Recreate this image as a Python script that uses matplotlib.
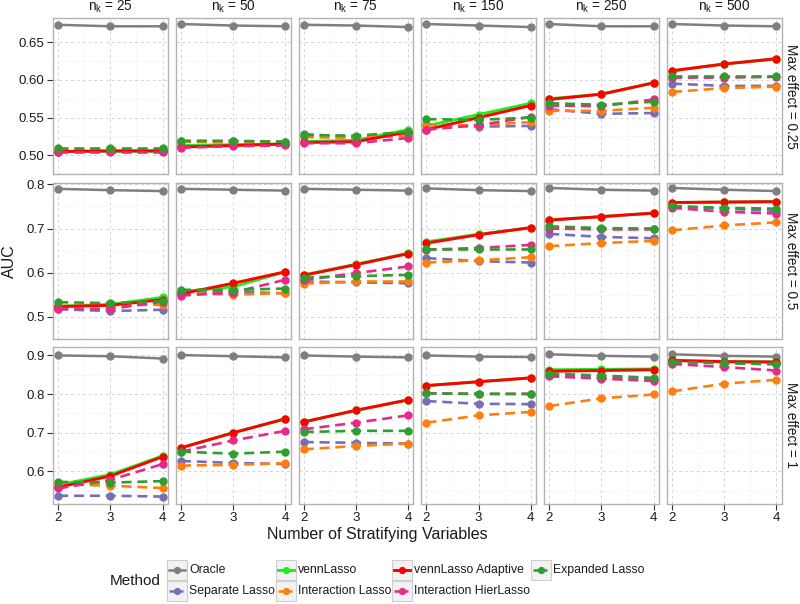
import matplotlib
matplotlib.use("Agg")
import matplotlib.pyplot as plt
from matplotlib.patches import Rectangle
from matplotlib.lines import Line2D

plt.rcParams['font.family'] = ['Liberation Sans', 'DejaVu Sans']
plt.rcParams['mathtext.fontset'] = 'custom'
plt.rcParams['mathtext.rm'] = 'Liberation Sans'
plt.rcParams['mathtext.it'] = 'Liberation Sans:italic'

# ---------------- data ----------------
strat_vars = [2, 3, 4]
n_k = [25, 50, 75, 150, 250, 500]
effects = ["0.25", "0.5", "1"]
methods = ["Oracle", "Separate Lasso", "vennLasso", "Interaction Lasso",
           "vennLasso Adaptive", "Interaction HierLasso", "Expanded Lasso"]

# each list: one row of [x=2, x=3, x=4] per n_k
oracle_e025 = [[0.673, 0.671, 0.671], [0.674, 0.672, 0.671], [0.673, 0.672, 0.670],
               [0.674, 0.672, 0.670], [0.674, 0.671, 0.671], [0.674, 0.672, 0.671]]
oracle_e05 = [[0.790, 0.787, 0.785], [0.790, 0.788, 0.786], [0.790, 0.788, 0.786],
              [0.791, 0.787, 0.785], [0.792, 0.788, 0.786], [0.792, 0.788, 0.785]]
oracle_e1 = [[0.900, 0.898, 0.892], [0.901, 0.898, 0.895], [0.900, 0.897, 0.895],
             [0.900, 0.897, 0.896], [0.903, 0.899, 0.897], [0.903, 0.899, 0.897]]

separate_e025 = [[0.506, 0.506, 0.506], [0.519, 0.519, 0.518], [0.528, 0.524, 0.528],
                 [0.541, 0.538, 0.539], [0.561, 0.555, 0.556], [0.595, 0.592, 0.592]]
separate_e05 = [[0.517, 0.513, 0.516], [0.556, 0.557, 0.553], [0.580, 0.578, 0.576],
                [0.633, 0.626, 0.623], [0.688, 0.681, 0.678], [0.750, 0.745, 0.740]]
separate_e1 = [[0.537, 0.537, 0.535], [0.627, 0.622, 0.619], [0.676, 0.674, 0.672],
               [0.782, 0.775, 0.774], [0.850, 0.842, 0.838], [0.883, 0.880, 0.877]]

venn_e025 = [[0.506, 0.506, 0.506], [0.513, 0.514, 0.515], [0.518, 0.520, 0.534],
             [0.539, 0.554, 0.569], [0.575, 0.581, 0.596], [0.612, 0.621, 0.628]]
venn_e05 = [[0.524, 0.528, 0.544], [0.557, 0.568, 0.602], [0.595, 0.619, 0.644],
            [0.670, 0.687, 0.702], [0.720, 0.727, 0.735], [0.759, 0.760, 0.761]]
venn_e1 = [[0.565, 0.592, 0.640], [0.661, 0.700, 0.736], [0.728, 0.758, 0.785],
           [0.822, 0.832, 0.842], [0.863, 0.864, 0.865], [0.887, 0.884, 0.883]]

inter_e025 = [[0.509, 0.509, 0.509], [0.518, 0.517, 0.517], [0.524, 0.523, 0.526],
              [0.540, 0.540, 0.544], [0.559, 0.559, 0.563], [0.584, 0.589, 0.591]]
inter_e05 = [[0.524, 0.527, 0.527], [0.554, 0.550, 0.554], [0.575, 0.580, 0.580],
             [0.623, 0.628, 0.635], [0.660, 0.667, 0.672], [0.696, 0.707, 0.714]]
inter_e1 = [[0.567, 0.563, 0.557], [0.615, 0.617, 0.621], [0.657, 0.666, 0.672],
            [0.726, 0.745, 0.754], [0.769, 0.789, 0.799], [0.807, 0.827, 0.837]]

adaptive_e025 = [[0.505, 0.506, 0.506], [0.511, 0.513, 0.515], [0.517, 0.518, 0.531],
                 [0.534, 0.550, 0.566], [0.574, 0.581, 0.596], [0.612, 0.621, 0.628]]
adaptive_e05 = [[0.523, 0.526, 0.539], [0.552, 0.576, 0.602], [0.594, 0.618, 0.643],
                [0.667, 0.686, 0.702], [0.719, 0.727, 0.735], [0.759, 0.760, 0.761]]
adaptive_e1 = [[0.559, 0.588, 0.638], [0.661, 0.700, 0.736], [0.728, 0.758, 0.785],
               [0.822, 0.832, 0.842], [0.859, 0.861, 0.863], [0.887, 0.884, 0.883]]

hier_e025 = [[0.505, 0.505, 0.505], [0.510, 0.512, 0.513], [0.516, 0.516, 0.523],
             [0.534, 0.540, 0.551], [0.566, 0.565, 0.574], [0.603, 0.603, 0.604]]
hier_e05 = [[0.518, 0.518, 0.534], [0.548, 0.555, 0.584], [0.583, 0.599, 0.614],
            [0.652, 0.656, 0.663], [0.700, 0.698, 0.698], [0.747, 0.738, 0.734]]
hier_e1 = [[0.556, 0.578, 0.619], [0.651, 0.680, 0.705], [0.709, 0.726, 0.745],
           [0.802, 0.800, 0.801], [0.846, 0.840, 0.834], [0.878, 0.870, 0.861]]

expanded_e025 = [[0.510, 0.510, 0.510], [0.519, 0.519, 0.518], [0.527, 0.526, 0.531],
                 [0.548, 0.547, 0.550], [0.569, 0.567, 0.571], [0.605, 0.605, 0.605]]
expanded_e05 = [[0.533, 0.531, 0.535], [0.561, 0.561, 0.564], [0.589, 0.592, 0.595],
                [0.654, 0.654, 0.654], [0.705, 0.701, 0.700], [0.751, 0.747, 0.745]]
expanded_e1 = [[0.573, 0.571, 0.575], [0.651, 0.646, 0.651], [0.702, 0.705, 0.705],
               [0.802, 0.801, 0.800], [0.853, 0.848, 0.842], [0.884, 0.880, 0.878]]

row_ticks = [[0.50, 0.55, 0.60, 0.65], [0.5, 0.6, 0.7, 0.8], [0.6, 0.7, 0.8, 0.9]]
row_tick_labels = [["0.50", "0.55", "0.60", "0.65"], ["0.5", "0.6", "0.7", "0.8"],
                   ["0.6", "0.7", "0.8", "0.9"]]

# ---------------- styles ----------------
series = {
    "Oracle": [oracle_e025, oracle_e05, oracle_e1],
    "Separate Lasso": [separate_e025, separate_e05, separate_e1],
    "vennLasso": [venn_e025, venn_e05, venn_e1],
    "Interaction Lasso": [inter_e025, inter_e05, inter_e1],
    "vennLasso Adaptive": [adaptive_e025, adaptive_e05, adaptive_e1],
    "Interaction HierLasso": [hier_e025, hier_e05, hier_e1],
    "Expanded Lasso": [expanded_e025, expanded_e05, expanded_e1],
}
colors = {
    "Oracle": "#7f7f7f", "Separate Lasso": "#7570B3", "vennLasso": "#1CF01C",
    "Interaction Lasso": "#FF7F0E", "vennLasso Adaptive": "#FF0000",
    "Interaction HierLasso": "#E7298A", "Expanded Lasso": "#2E9E2E",
}
dashed = {"Separate Lasso", "Interaction Lasso", "Interaction HierLasso", "Expanded Lasso"}
lws = {"Oracle": 1.8, "vennLasso": 2.1, "vennLasso Adaptive": 2.1}

W, H = 800, 604
fig = plt.figure(figsize=(W / 100, H / 100), dpi=100)

left0, right_end, top0, bottom_end = 53, 781.5, 18, 503.5
gapx, gapy = 8, 8.5
pw = (right_end - left0 - 5 * gapx) / 6
ph = (bottom_end - top0 - 2 * gapy) / 3
ylims = [(0.4976, 0.682), (0.4995, 0.804), (0.517, 0.921)]

# overlay axes in pixel coordinates for titles and legend
ov = fig.add_axes([0, 0, 1, 1], zorder=10)
ov.set_xlim(0, W)
ov.set_ylim(H, 0)
ov.axis('off')
ov.patch.set_alpha(0)

for r in range(3):
    for c in range(6):
        x0 = left0 + c * (pw + gapx)
        y0 = top0 + r * (ph + gapy)
        ax = fig.add_axes([x0 / W, 1 - (y0 + ph) / H, pw / W, ph / H])
        ax.set_xlim(1.9, 4.1)
        ax.set_ylim(*ylims[r])
        ax.set_xticks(strat_vars)
        ax.set_xticks([2.5, 3.5], minor=True)
        t = row_ticks[r]
        ax.set_yticks(t)
        ax.set_yticks([v + (t[1] - t[0]) / 2 for v in t[:-1]] + [t[0] - (t[1] - t[0]) / 2], minor=True)
        ax.grid(which='major', color='#d4d4d4', linestyle=(0, (3, 3)), linewidth=0.7)
        ax.grid(which='minor', color='#ececec', linestyle=(0, (3, 3)), linewidth=0.5)
        ax.set_axisbelow(True)
        for s in ax.spines.values():
            s.set_color('#b3b3b3')
            s.set_linewidth(1.0)
        ax.tick_params(which='minor', length=0)
        ax.tick_params(which='major', length=4, color='#333333', labelsize=9.5,
                       labelcolor='#1a1a1a', pad=2)
        if c == 0:
            ax.set_yticklabels(row_tick_labels[r])
        else:
            ax.tick_params(axis='y', which='major', length=0, labelleft=False)
        if r == 2:
            ax.set_xticklabels([str(v) for v in strat_vars])
        else:
            ax.tick_params(axis='x', which='major', length=0, labelbottom=False)
        for m in methods:
            vals = series[m][r][c]
            ls = (0, (3.8, 2.2)) if m in dashed else '-'
            ax.plot(strat_vars, vals, color=colors[m], linestyle=ls,
                    linewidth=lws.get(m, 1.9), zorder=2, solid_capstyle='butt',
                    dash_capstyle='butt')
        for m in methods:
            vals = series[m][r][c]
            ax.plot(strat_vars, vals, linestyle='none', marker='o', markersize=5,
                    color=colors[m], zorder=3)
        if r == 0:
            ov.text(x0 + pw / 2, 10.5, r"$\mathregular{n_k}$ = %d" % n_k[c],
                    fontsize=9.8, ha='center', va='baseline', color='#1a1a1a')
        if c == 5:
            ov.text(791, y0 + ph / 2, "Max effect = %s" % effects[r],
                    rotation=-90, va='center', ha='center', fontsize=9.8,
                    color='#1a1a1a')

ov.text(377, 535, "Number of Stratifying Variables", ha='center', va='center',
        fontsize=11.5, color='#1a1a1a')
ov.text(9, 261, "AUC", rotation=90, ha='center', va='center', fontsize=11.5,
        color='#1a1a1a')
ov.text(110, 581, "Method", ha='left', va='center', fontsize=11, color='#1a1a1a')

key_cols = [167, 275.5, 392, 531]
key_rows = [559.5, 580.5]
kw, kh = 20, 20.5
for i, m in enumerate(methods):
    col, row = divmod(i, 2)
    kx, ky = key_cols[col], key_rows[row]
    ov.add_patch(Rectangle((kx, ky), kw, kh, facecolor='#f2f2f2',
                           edgecolor='#cfcfcf', linewidth=0.8))
    ls = (0, (2.2, 1.2)) if m in dashed else '-'
    ov.add_line(Line2D([kx + 2, kx + kw - 2], [ky + kh / 2, ky + kh / 2],
                       color=colors[m], linestyle=ls, linewidth=lws.get(m, 1.8)))
    ov.plot([kx + kw / 2], [ky + kh / 2], marker='o', markersize=4.2, color=colors[m])
    ov.text(kx + kw + 2, ky + kh / 2, m, ha='left', va='center', fontsize=8.8,
            color='#1a1a1a')

fig.savefig("out.png", dpi=100)
